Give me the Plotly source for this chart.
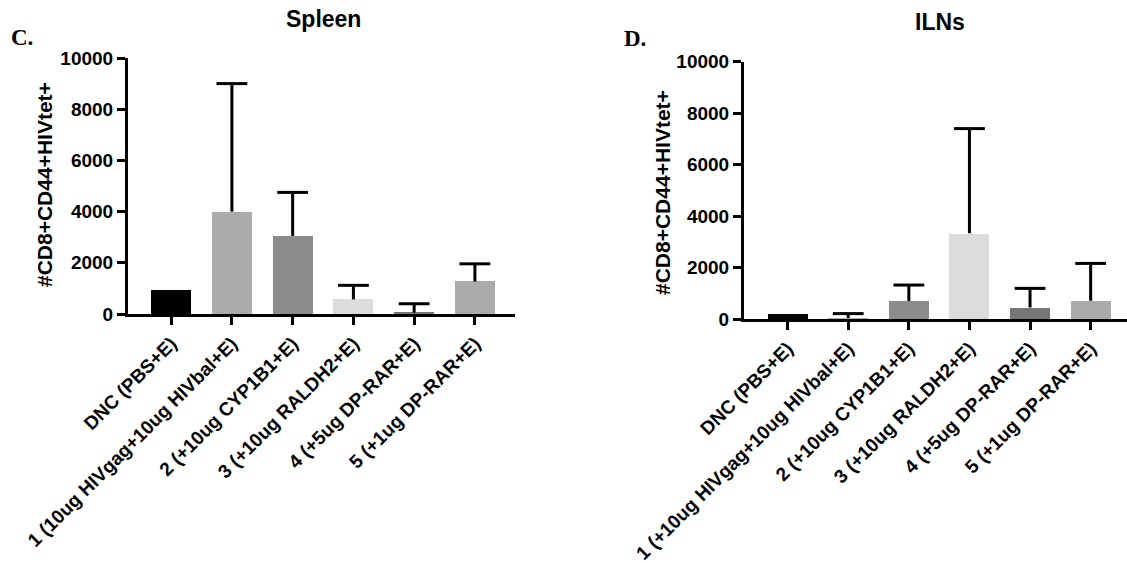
import plotly.graph_objects as go

W, H = 1127, 563

spleen_categories = ["DNC (PBS+E)", "1 (10ug HIVgag+10ug HIVbal+E)", "2 (+10ug CYP1B1+E)",
                     "3 (+10ug RALDH2+E)", "4 (+5ug DP-RAR+E)", "5 (+1ug DP-RAR+E)"]
spleen_values = [930, 4000, 3050, 570, 50, 1270]
spleen_err = [0, 5000, 1700, 550, 350, 690]

iln_categories = ["DNC (PBS+E)", "1 (+10ug HIVgag+10ug HIVbal+E)", "2 (+10ug CYP1B1+E)",
                  "3 (+10ug RALDH2+E)", "4 (+5ug DP-RAR+E)", "5 (+1ug DP-RAR+E)"]
iln_values = [220, 40, 700, 3330, 450, 710]
iln_err = [0, 170, 620, 4070, 740, 1450]

bar_colors = ["#000000", "#ababab", "#8c8c8c", "#dcdcdc", "#767676", "#ababab"]

y_ticks = [0, 2000, 4000, 6000, 8000, 10000]
y_title = "#CD8+CD44+HIVtet+"

FONT = "Arial, Liberation Sans, Helvetica, sans-serif"


def px_x(v):
    return v / W


def px_y(v):
    return 1 - v / H


fig = go.Figure()

for cats, vals, errs, xa, ya in [
    (spleen_categories, spleen_values, spleen_err, "x", "y"),
    (iln_categories, iln_values, iln_err, "x2", "y2"),
]:
    xs = list(range(len(cats)))
    fig.add_trace(go.Bar(
        x=xs, y=vals,
        marker=dict(color=bar_colors, line=dict(width=0)),
        width=0.66, xaxis=xa, yaxis=ya, showlegend=False, hoverinfo="skip",
    ))
    # error bar stems (upper only)
    sx, sy = [], []
    tx, ty = [], []
    for x, v, e in zip(xs, vals, errs):
        if e > 0:
            sx += [x, x, None]
            sy += [v, v + e, None]
            tx.append(x)
            ty.append(v + e)
    fig.add_trace(go.Scatter(
        x=sx, y=sy, mode="lines", line=dict(color="#000", width=3),
        xaxis=xa, yaxis=ya, showlegend=False, hoverinfo="skip", cliponaxis=False,
    ))
    fig.add_trace(go.Scatter(
        x=tx, y=ty, mode="markers",
        marker=dict(symbol="line-ew", size=22, line=dict(color="#000", width=3)),
        xaxis=xa, yaxis=ya, showlegend=False, hoverinfo="skip", cliponaxis=False,
    ))

axis_common_x = dict(
    tickmode="array", tickvals=list(range(6)),
    tickangle=-45, tickfont=dict(family=FONT, size=19, color="#000", weight="bold"),
    showline=True, linecolor="#000", linewidth=3, mirror=False,
    ticks="outside", ticklen=8, tickwidth=3, tickcolor="#000",
    showgrid=False, zeroline=False, fixedrange=True, automargin=False,
)
axis_common_y = dict(
    range=[0, 10000], tickmode="array", tickvals=y_ticks, ticktext=[str(t) for t in y_ticks],
    tickfont=dict(family=FONT, size=19, color="#000", weight="bold"),
    showline=True, linecolor="#000", linewidth=3,
    ticks="outside", ticklen=8, tickwidth=3, tickcolor="#000",
    showgrid=False, zeroline=False, fixedrange=True, automargin=False,
)

fig.update_layout(
    width=W, height=H,
    margin=dict(l=0, r=0, t=0, b=0, autoexpand=False),
    plot_bgcolor="white", paper_bgcolor="white",
    bargap=0,
    xaxis=dict(axis_common_x, domain=[px_x(128), px_x(515)], range=[-0.71, 5.66],
               ticktext=spleen_categories, anchor="y"),
    yaxis=dict(axis_common_y, domain=[px_y(314), px_y(58)], anchor="x"),
    xaxis2=dict(axis_common_x, domain=[px_x(744), 1.0], range=[-0.72, 5.6],
                ticktext=iln_categories, anchor="y2"),
    yaxis2=dict(axis_common_y, domain=[px_y(319), px_y(61.7)], anchor="x2"),
)

annotations = [
    dict(text="Spleen", x=px_x(323), y=px_y(19), font=dict(family=FONT, size=23, weight="bold")),
    dict(text="ILNs", x=px_x(940), y=px_y(22), font=dict(family=FONT, size=23, weight="bold")),
    dict(text="C.", x=px_x(22), y=px_y(37),
         font=dict(family="Liberation Serif, Times New Roman, serif", size=23, weight="bold")),
    dict(text="D.", x=px_x(635), y=px_y(39),
         font=dict(family="Liberation Serif, Times New Roman, serif", size=23, weight="bold")),
    dict(text=y_title, x=px_x(44), y=px_y(185), textangle=-90,
         font=dict(family=FONT, size=21, weight="bold")),
    dict(text=y_title, x=px_x(662), y=px_y(193), textangle=-90,
         font=dict(family=FONT, size=21, weight="bold")),
]
for a in annotations:
    a.update(xref="paper", yref="paper", xanchor="center", yanchor="middle", showarrow=False)
    a["font"]["color"] = "#000"
fig.update_layout(annotations=annotations)

fig.write_html("out.html")
